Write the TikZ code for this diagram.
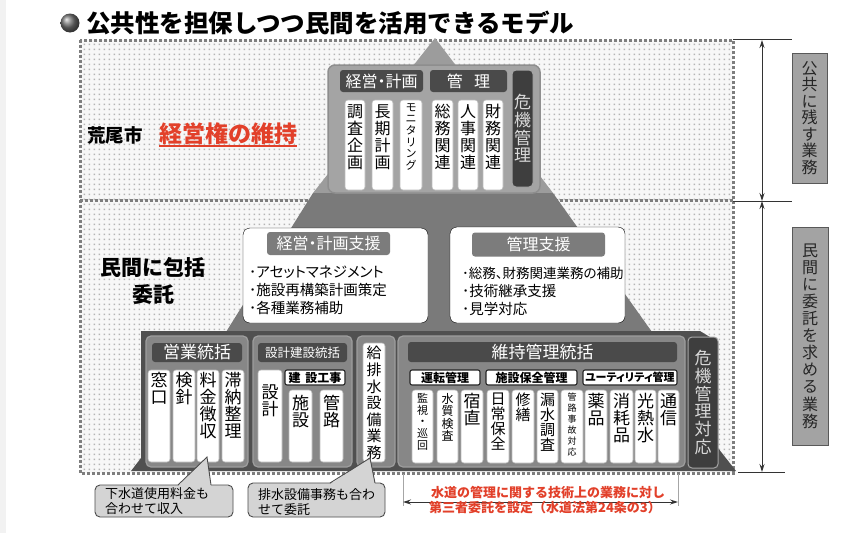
\documentclass[tikz,border=0pt]{standalone}
\usepackage{fontspec}
\setmainfont{Noto Sans CJK JP}
\newfontfamily\cjkp[RawFeature=+palt]{Noto Sans CJK JP}
\usetikzlibrary{arrows.meta}
\newcommand{\fsz}[2]{\fontsize{#1}{#2}\selectfont}
\definecolor{dashc}{HTML}{7E7E7E}
\definecolor{dotc}{HTML}{B4B4B4}
\definecolor{gtop}{HTML}{9C9C9C}
\definecolor{gbox}{HTML}{A4A4A4}
\definecolor{gboxb}{HTML}{8E8E8E}
\definecolor{gmid}{HTML}{7A7A7A}
\definecolor{gbase}{HTML}{505050}
\definecolor{grpc}{HTML}{878787}
\definecolor{grpb}{HTML}{9E9E9E}
\definecolor{hdrc}{HTML}{4A4A4A}
\definecolor{hdrtwo}{HTML}{7C7C7C}
\definecolor{crisc}{HTML}{3E3E3E}
\definecolor{lightt}{HTML}{D9D9D9}
\definecolor{redc}{HTML}{E2402A}
\definecolor{rboxc}{HTML}{A3A3A3}
\definecolor{callc}{HTML}{D4D4D4}
\tikzset{
  colbox/.style={fill=white, draw=gray!55, rounded corners=3pt, line width=0.6pt},
  vt/.style={align=center, inner sep=0pt, anchor=north, text=black},
  hdr/.style={fill=hdrc, rounded corners=3pt, text=white, inner sep=0pt},
  hdrb/.style={fill=hdrtwo, rounded corners=3pt, text=white, inner sep=0pt},
  subh/.style={fill=white, draw=black!85, line width=1.1pt, rounded corners=2pt, inner sep=0pt, font=\bfseries\fsz{12}{12}},
  grp/.style={fill=grpc, draw=grpb, line width=1.2pt, rounded corners=5pt},
  crisis/.style={fill=crisc, draw=gray!70, line width=1pt, rounded corners=4pt, text=lightt, align=center, inner sep=0pt},
  rbox/.style={fill=rboxc, draw=black!65, line width=0.8pt, align=center, inner sep=0pt, text=black!85},
  callout/.style={fill=callc, draw=black!70, line width=0.9pt, rounded corners=5pt},
  item/.style={anchor=west, inner sep=0pt, text=black},
  redt/.style={inner sep=0pt, text=redc, font=\bfseries\fsz{13}{13}},
  dashb/.style={draw=dashc, line width=3pt, dash pattern=on 2.8pt off 2.2pt},
  dim/.style={draw=black!80, line width=1pt},
  dimtip/.style={{Stealth[length=8pt,width=5pt]}-{Stealth[length=8pt,width=5pt]}},
  f9/.style={font=\fsz{9}{11}},
  f11/.style={font=\fsz{11}{11.7}},
  f12/.style={font=\fsz{12}{12.5}},
  f15/.style={font=\fsz{15}{15}},
  f15b/.style={font=\fsz{15}{16.6}},
  f16/.style={font=\fsz{16}{17}},
  f17/.style={font=\fsz{17}{17}},
}
\newcommand{\vcol}[7]{\draw[colbox] (#2,#4) rectangle (#3,#5);
  \node[vt,#6] (#1) at ({(#2+#3)/2},#4) {#7};}
\begin{document}
\begin{tikzpicture}[x=1pt,y=-1pt]
\useasboundingbox (0,0) rectangle (859,533);
\fill[white] (0,0) rectangle (859,533);
\fill[gray!10] (0,0) rectangle (6,533);
% title
\shade[ball color=black!55] (70,23) circle (9.5pt);
\node[anchor=west, inner sep=0pt, font=\bfseries\fsz{24.5}{24.5}] (title) at (86,23) {公共性を担保しつつ民間を活用できるモデル};
% dotted region
\fill[gray!6] (80,40) rectangle (733,473);
\foreach \j in {0,...,85} {
  \fill[dotc] \foreach \i in {0,...,129} {({83.6+\i*5},{43.6+\j*5}) rectangle ++(1.4,1.4)};
}
\draw[dashb] (80,40) rectangle (733,473);
\draw[dashb] (80,200) -- (733,200);
% pyramid
\fill[gtop] (435,38) -- (553,193) -- (313,193) -- cycle;
\fill[gmid] (313,193) -- (553,193) -- (652,332) -- (226,332) -- cycle;
\fill[gbase] (141,331) -- (700,331) -- (718,342) -- (718,448) -- (736,471) -- (131,471) -- (141,458) -- cycle;
% top tier
\draw[fill=gbox, draw=gboxb, line width=1.5pt, rounded corners=7pt] (328,65) rectangle (540,193);
\node[hdr, minimum width=83, minimum height=22, font=\cjkp\fsz{16}{16}] (hKP) at (381.5,81) {経営・計画};
\node[hdr, minimum width=77, minimum height=22, font=\fsz{16}{16}] (hKR) at (468.5,81) {管\hspace{0.7em}理};
\node[crisis, minimum width=21, minimum height=117, font=\fsz{17}{17.7}] (kiki1) at (522.5,128.5) {危\\機\\管\\理};
\vcol{c1}{345}{365}{100}{190}{f16,yshift=-4pt}{調\\査\\企\\画}
\vcol{c2}{372}{393}{100}{190}{f16,yshift=-4pt}{長\\期\\計\\画}
\vcol{c3}{400}{422}{100}{190}{f11,yshift=-3pt}{モ\\ニ\\タ\\リ\\ン\\グ}
\vcol{c4}{432}{453}{100}{190}{f16,yshift=-4pt}{総\\務\\関\\連}
\vcol{c5}{458}{478}{100}{190}{f16,yshift=-4pt}{人\\事\\関\\連}
\vcol{c6}{483}{503}{100}{190}{f16,yshift=-4pt}{財\\務\\関\\連}
% left labels
\node[anchor=west, inner sep=0pt, font=\bfseries\fsz{18.5}{18.5}] (city) at (87,135) {荒尾市};
\node[anchor=west, inner sep=0pt, text=redc, font=\bfseries\fsz{23}{23}] (keep) at (159,134) {経営権の維持};
\draw[redc, line width=1.6pt] ([yshift=-1pt]keep.south west) -- ([yshift=-1pt]keep.south east);
\node[inner sep=0pt, align=center, font=\bfseries\fsz{21}{27}] (itaku) at (153,281) {民間に包括\\委託};
% middle tier
\draw[fill=white, rounded corners=7pt] (243,228) rectangle (428,323);
\node[hdrb, minimum width=123, minimum height=23, font=\cjkp\fsz{16}{16}] (hKPS) at (328.5,243.5) {経営・計画支援};
\node[item, font=\cjkp\fsz{14.5}{14.5}] (i1) at (249,272) {･アセットマネジメント};
\node[item, font=\cjkp\fsz{14.5}{14.5}] (i2) at (249,290) {･施設再構築計画策定};
\node[item, font=\cjkp\fsz{14.5}{14.5}] (i3) at (249,308) {･各種業務補助};
\draw[fill=white, rounded corners=7pt] (450,227) rectangle (625,323);
\node[hdrb, minimum width=133, minimum height=24, font=\fsz{16}{16}] (hKRS) at (538.5,244.5) {管理支援};
\node[item, font=\cjkp\fsz{13.5}{13.5}] (j1) at (462,273) {･総務、財務関連業務の補助};
\node[item, font=\cjkp\fsz{14.5}{14.5}] (j2) at (462,291) {･技術継承支援};
\node[item, font=\cjkp\fsz{14.5}{14.5}] (j3) at (462,309) {･見学対応};
% bottom tier
\draw[grp] (146,336) rectangle (248,467);
\node[hdr, minimum width=90, minimum height=19, font=\fsz{17}{17}] (hEG) at (197,352.5) {営業統括};
\vcol{e1}{148}{170}{370}{462}{f17,yshift=-2pt}{窓\\口}
\vcol{e2}{173}{195}{370}{462}{f17,yshift=-2pt}{検\\針}
\vcol{e3}{197}{219}{370}{462}{f17,yshift=-2pt}{料\\金\\徴\\収}
\vcol{e4}{222}{244}{370}{462}{f17,yshift=-2pt}{滞\\納\\整\\理}
\draw[grp] (253,336) rectangle (352,467);
\node[hdr, minimum width=89, minimum height=19, font=\fsz{12.5}{12.5}] (hSK) at (302.5,352.5) {設計建設統括};
\node[subh, minimum width=60, minimum height=15] (hKK) at (315,377.5) {建\hspace{0.4em}設工事};
\vcol{s1}{258}{282}{370}{462}{f17,yshift=-15pt}{設\\計}
\vcol{s2}{289}{312}{390}{462}{f17,yshift=-5pt}{施\\設}
\vcol{s3}{320}{343}{390}{462}{f17,yshift=-5pt}{管\\路}
\draw[grp] (357,336) rectangle (395,467);
\vcol{k1}{363}{385}{343}{462}{f15b,yshift=-3pt}{給\\排\\水\\設\\備\\業\\務}
\draw[grp] (398,336) rectangle (685,467);
\node[hdr, minimum width=269, minimum height=20, font=\fsz{17}{17}] (hIJ) at (542.5,352) {維持管理統括};
\node[subh, minimum width=70, minimum height=15] (hUT) at (445,377.5) {運転管理};
\node[subh, minimum width=91, minimum height=15] (hSH) at (531.5,377.5) {施設保全管理};
\node[subh, minimum width=94, minimum height=15, font=\bfseries\cjkp\fsz{11}{11}] (hUL) at (630,377.5) {ユーティリティ管理};
\vcol{m1}{412}{433}{390}{463}{f11,yshift=-3pt}{監\\視\\・\\巡\\回}
\vcol{m2}{437}{458}{390}{463}{f12,yshift=-3pt}{水\\質\\検\\査}
\vcol{m3}{461}{483}{390}{463}{f17,yshift=-3pt}{宿\\直}
\vcol{m4}{487}{509}{390}{463}{f15,yshift=-3pt}{日\\常\\保\\全}
\vcol{m5}{512}{534}{390}{463}{f15,yshift=-3pt}{修\\繕}
\vcol{m6}{537}{558}{390}{463}{f15,yshift=-3pt}{漏\\水\\調\\査}
\vcol{m7}{561}{583}{390}{463}{f9,yshift=-3pt}{管\\路\\事\\故\\対\\応}
\vcol{m8}{585}{607}{390}{463}{f17,yshift=-3pt}{薬\\品}
\vcol{m9}{610}{633}{390}{463}{f17,yshift=-3pt}{消\\耗\\品}
\vcol{m10}{635}{656}{390}{463}{f17,yshift=-3pt}{光\\熱\\水}
\vcol{m11}{658}{679}{390}{463}{f17,yshift=-3pt}{通\\信}
\node[crisis, minimum width=30, minimum height=131, font=\fsz{17}{17.8}] (kiki2) at (703,402.5) {危\\機\\管\\理\\対\\応};
% callouts
\draw[callout] (95,485) rectangle (233,517);
\fill[callc] (178,486.2) -- (207,457) -- (211,486.2) -- cycle;
\draw[black!70, line width=0.9pt] (178,485) -- (207,457) -- (211,485);
\node[item, font=\fsz{13}{13}] (n1) at (105,494) {下水道使用料金も};
\node[item, font=\fsz{13}{13}] (n2) at (105,508.5) {合わせて収入};
\draw[callout] (248,483) rectangle (385,517);
\fill[callc] (330,484.2) -- (370,458) -- (375,484.2) -- cycle;
\draw[black!70, line width=0.9pt] (330,483) -- (370,458) -- (375,483);
\node[item, font=\fsz{13}{13}] (n3) at (258,495) {排水設備事務も合わ};
\node[item, font=\fsz{13}{13}] (n4) at (258,510) {せて委託};
% red note
\coordinate (b1) at (403,502);
\coordinate (b2) at (678,502);
\draw[gray!70, line width=0.8pt] (403,474) -- (403,506);
\draw[gray!70, line width=0.8pt] (678,474) -- (678,506);
\draw[dim, dimtip] (b1) -- (b2);
\node[redt] (r1) at (548,493) {水道の管理に関する技術上の業務に対し};
\node[redt] (r2) at (545,508) {第三者委託を設定（水道法第24条の3）};
% right dimension
\coordinate (a1) at (762,40);
\coordinate (a2) at (762,201);
\coordinate (a3) at (762,472);
\draw[black!80, line width=0.9pt] (733,39.5) -- (792,39.5);
\draw[black!80, line width=0.9pt] (733,201) -- (792,201);
\draw[black!80, line width=0.9pt] (738,472) -- (785,472);
\draw[dim, dimtip] (a1) -- (a2);
\draw[dim, dimtip] (a2) -- (a3);
\node[rbox, minimum width=35, minimum height=130, font=\fsz{16}{16.5}] (pub) at (809.5,118) {公\\共\\に\\残\\す\\業\\務};
\node[rbox, minimum width=36, minimum height=218, font=\fsz{16}{17.1}] (priv) at (810,336) {民\\間\\に\\委\\託\\を\\求\\め\\る\\業\\務};
\end{tikzpicture}
\end{document}
